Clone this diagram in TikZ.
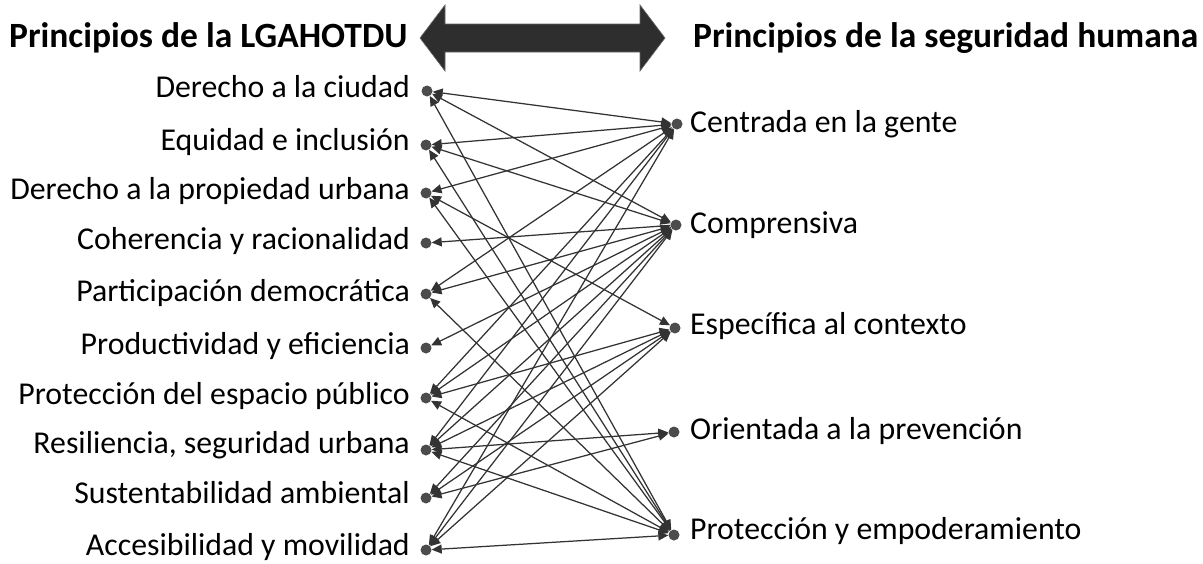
\documentclass[tikz,border=0pt]{standalone}
\usepackage{fontspec}
\setmainfont{Carlito}
\usetikzlibrary{arrows.meta}
\begin{document}
\begin{tikzpicture}[x=1pt,y=-1pt,
  lab/.style={font=\fontsize{31.8}{36}\selectfont, inner sep=0pt, text height=22pt, text depth=7pt},
  headtxt/.style={font=\fontsize{35.5}{40}\selectfont\bfseries, inner sep=0pt, anchor=west},
  dot/.style={circle, fill=black!70, minimum size=11pt, inner sep=0pt},
  link/.style={draw=black!80, line width=1.25pt, {Triangle[length=10pt,width=9pt]}-{Triangle[length=10pt,width=9pt]}},
  linkl/.style={draw=black!80, line width=1.25pt, {Triangle[length=10pt,width=9pt]}-},
  bigarrow/.style={fill=black!82, draw=black!60, line width=0.6pt}]
\useasboundingbox (0,0) rectangle (1203,563);

% headings
\node[headtxt] (hl) at (9,38) {Principios de la LGAHOTDU};
\node[headtxt] (hr) at (693,38) {Principios de la seguridad humana};
\draw[bigarrow] (420,38) -- (445,5) -- (445,24) -- (640,24) -- (640,5) -- (665,38)
  -- (640,71) -- (640,52) -- (445,52) -- (445,71) -- cycle;

% left labels
\node[lab, anchor=east] (t1) at (410,90) {Derecho a la ciudad};
\node[lab, anchor=east] (t2) at (410,143) {Equidad e inclusión};
\node[lab, anchor=east] (t3) at (410,192) {Derecho a la propiedad urbana};
\node[lab, anchor=east] (t4) at (410,242) {Coherencia y racionalidad};
\node[lab, anchor=east] (t5) at (410,294) {Participación democrática};
\node[lab, anchor=east] (t6) at (410,347) {Productividad y eficiencia};
\node[lab, anchor=east] (t7) at (410,397) {Protección del espacio público};
\node[lab, anchor=east] (t8) at (410,446) {Resiliencia, seguridad urbana};
\node[lab, anchor=east] (t9) at (410,496) {Sustentabilidad ambiental};
\node[lab, anchor=east] (t10) at (410,548) {Accesibilidad y movilidad};

% right labels
\node[lab, anchor=west] (s1) at (690,125) {Centrada en la gente};
\node[lab, anchor=west] (s2) at (690,226) {Comprensiva};
\node[lab, anchor=west] (s3) at (690,327) {Específica al contexto};
\node[lab, anchor=west] (s4) at (690,432) {Orientada a la prevención};
\node[lab, anchor=west] (s5) at (690,532) {Protección y empoderamiento};

% dots
\node[dot] (L1) at (427,91) {};
\node[dot] (L2) at (426,145) {};
\node[dot] (L3) at (426,193) {};
\node[dot] (L4) at (426,243) {};
\node[dot] (L5) at (426,294) {};
\node[dot] (L6) at (426,348) {};
\node[dot] (L7) at (426,398) {};
\node[dot] (L8) at (426,450) {};
\node[dot] (L9) at (426,498) {};
\node[dot] (L10) at (426,550) {};
\node[dot] (R1) at (677,124) {};
\node[dot] (R2) at (676,225) {};
\node[dot] (R3) at (675,328) {};
\node[dot] (R4) at (674,432) {};
\node[dot] (R5) at (674,535) {};

% connectors
\foreach \l in {L1,L2,L3,L5,L7,L8,L10} { \draw[link] (\l) -- (R1); }
\foreach \l in {L1,L2,L5,L7,L8,L9,L10} { \draw[link] (\l) -- (R2); }
\draw[linkl] (L4) -- (R2);
\draw[linkl] (L6) -- (R2);
\foreach \l in {L3,L7,L8,L9,L10} { \draw[link] (\l) -- (R3); }
\foreach \l in {L8,L9} { \draw[link] (\l) -- (R4); }
\foreach \l in {L1,L2,L3,L5,L7,L8,L10} { \draw[link] (\l) -- (R5); }
\end{tikzpicture}
\end{document}
